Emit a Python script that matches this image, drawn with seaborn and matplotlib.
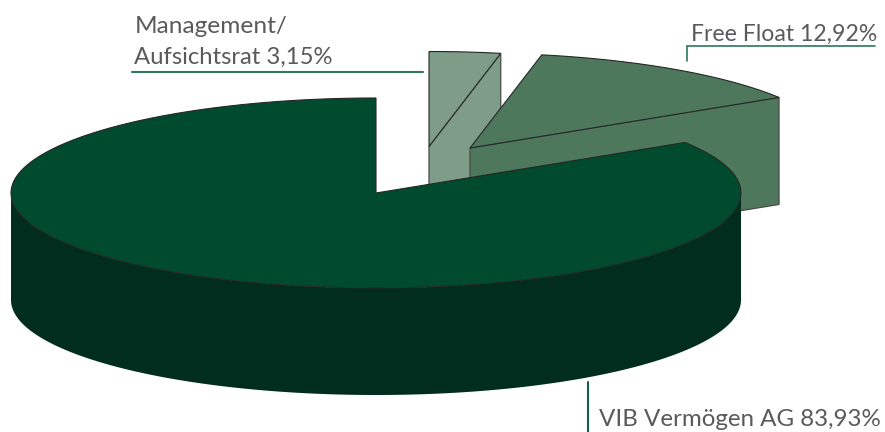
import numpy as np
import matplotlib
matplotlib.use("Agg")
import matplotlib.pyplot as plt
import seaborn as sns

# Shareholder structure, percent
holders = ["VIB Vermögen AG", "Free Float", "Management/\nAufsichtsrat"]
shares = [83.93, 12.92, 3.15]
value_labels = ["83,93%", "12,92%", "3,15%"]

top_colors = ["#004b2d", "#4d785c", "#7e9c88"]
wall_colors = ["#002d1d", "#4d785c", "#7e9c88"]

# Disc geometry in pixel space
RX, RY, DEPTH = 365, 95, 107
START_DEG = 90
CENTERS = [(376, 193), (470, 148), (429, 146.5)]
EDGE = "#262626"
LEADER = "#2f7560"
TEXT = "#5a5a5c"

sns.set_style("white")
plt.rcParams["font.family"] = ["Lato", "DejaVu Sans"]

fig = plt.figure(figsize=(8.85, 4.32), dpi=100)
ax = fig.add_axes([0, 0, 1, 1])
ax.set_xlim(0, 885)
ax.set_ylim(432, 0)
ax.set_axis_off()
sns.despine(ax=ax, left=True, bottom=True)


def rim(center, deg):
    """Rim points of the tilted disc for parametric angles in degrees."""
    t = np.radians(deg)
    return center[0] + RX * np.cos(t), center[1] - RY * np.sin(t)


def draw_top(center, a0, a1, color, zorder):
    degs = np.linspace(a0, a1, 240)
    xs, ys = rim(center, degs)
    ax.fill(np.r_[center[0], xs], np.r_[center[1], ys], facecolor=color,
            edgecolor=EDGE, linewidth=0.8, joinstyle="miter", zorder=zorder)


def draw_cut_face(center, deg, color, zorder):
    x, y = rim(center, deg)
    ax.fill([center[0], x, x, center[0]],
            [center[1], y, y + DEPTH, center[1] + DEPTH],
            facecolor=color, edgecolor="#4a4a4a", linewidth=0.9, zorder=zorder)


# Slice angles run counter-clockwise from twelve o'clock
sweeps = np.array(shares) / 100 * 360
main_end = START_DEG + sweeps[0]
float_end = main_end + sweeps[1]
mgmt_end = float_end + sweeps[2]

# Management slice, furthest back
draw_cut_face(CENTERS[2], float_end - 360, wall_colors[2], 1)
draw_top(CENTERS[2], float_end - 360, mgmt_end - 360, top_colors[2], 2)

# Free float slice
draw_cut_face(CENTERS[1], main_end - 360, wall_colors[1], 3)
draw_top(CENTERS[1], main_end - 360, float_end - 360, top_colors[1], 4)

# Main slice: outer wall first, then its top
wall = np.linspace(180, 360, 240)
wx, wy = rim(CENTERS[0], wall)
ax.fill(np.r_[wx, wx[::-1]], np.r_[wy, wy[::-1] + DEPTH],
        facecolor=wall_colors[0], edgecolor="none", zorder=5)
draw_top(CENTERS[0], START_DEG, main_end, top_colors[0], 6)

# Leader lines
ax.plot([132, 423], [72, 72], color=LEADER, lw=1.5, zorder=7)
ax.plot([687, 687, 875], [61, 46, 46], color=LEADER, lw=1.2, zorder=7,
        solid_joinstyle="miter")
ax.plot([588, 588], [382, 432], color="#0f6044", lw=1.5, zorder=7)

# Labels
first, second = holders[2].split("\n")
ax.text(135, 33, first, fontsize=17.6, color=TEXT, va="baseline", ha="left")
ax.text(134, 64, f"{second} {value_labels[2]}", fontsize=17.2, color=TEXT,
        va="baseline", ha="left")
ax.text(691, 41, f"{holders[1]} {value_labels[1]}", fontsize=16.6, color=TEXT,
        va="baseline", ha="left")
ax.text(599, 426, f"{holders[0]} {value_labels[0]}", fontsize=17.4, color=TEXT,
        va="baseline", ha="left")

fig.savefig("out.png", dpi=100, facecolor="white")
